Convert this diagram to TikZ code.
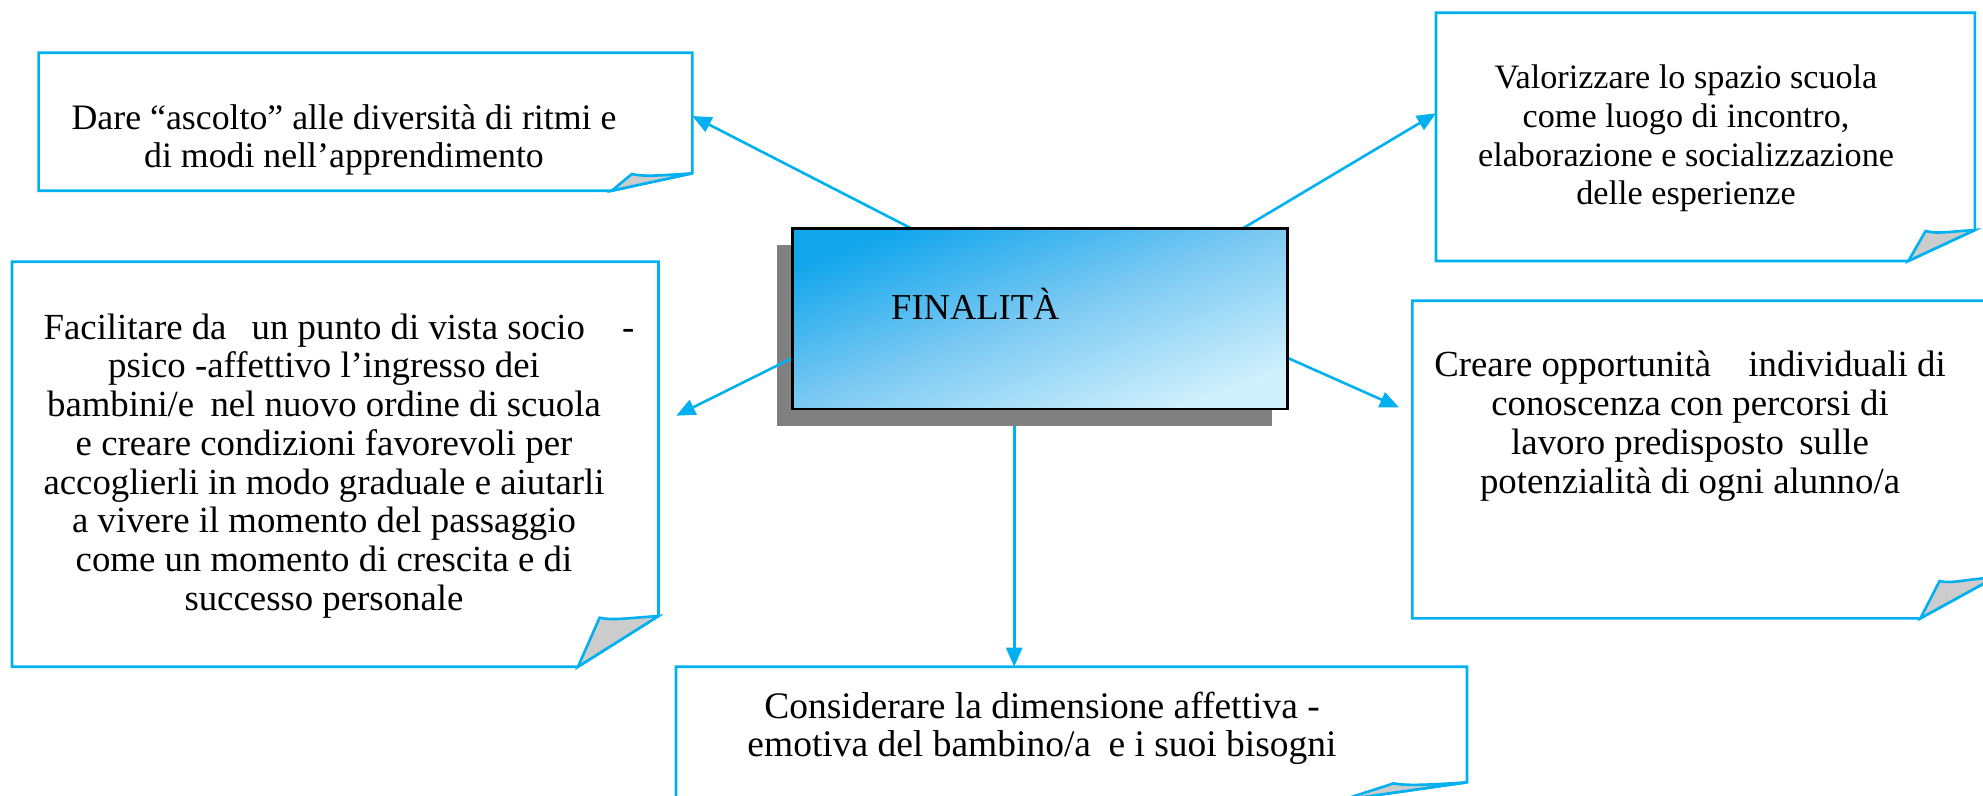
\documentclass[tikz,border=0pt]{standalone}
\usepackage{fontspec}
\setmainfont{Liberation Serif}
\usetikzlibrary{arrows.meta,calc}
\definecolor{lineblue}{RGB}{0,176,240}
\definecolor{foldgray}{RGB}{204,204,204}
\definecolor{shadowgray}{RGB}{128,128,128}
\definecolor{gradA}{RGB}{18,166,236}
\definecolor{gradM}{RGB}{125,202,242}
\definecolor{gradB}{RGB}{208,240,252}
\pgfdeclareverticalshading{finshade}{100bp}{color(0bp)=(gradB); color(25bp)=(gradB); color(50bp)=(gradM); color(75bp)=(gradA); color(100bp)=(gradA)}
% #1 node, #2 bottom-end dx, #3 right-end dy, #4 tip dx, #5 tip dy
\newcommand{\drawfoldbox}[5]{%
  \draw[boxline] (#1.north west) -- (#1.north east) -- ([yshift=#3pt]#1.south east)
     -- ([xshift=-#2pt]#1.south east) -- (#1.south west) -- cycle;
  \filldraw[boxline, fill=foldgray] ([xshift=-#2pt]#1.south east)
     -- ([xshift=-#4pt,yshift=#5pt]#1.south east)
     .. controls ([xshift=-#4pt+12pt,yshift=#5pt-3pt]#1.south east)
     and ([xshift=-30pt,yshift=#3pt-2pt]#1.south east) .. ([yshift=#3pt]#1.south east)
     -- cycle;
}
\begin{document}
\begin{tikzpicture}[x=1pt, y=-1pt,
  boxline/.style={draw=lineblue, line width=2.6pt, line join=miter},
  conn/.style={draw=lineblue, line width=2.6pt, -{Triangle[length=19pt,width=16pt]}},
  frame/.style={draw=none, inner sep=0pt, outer sep=0pt},
  txt/.style={inner sep=0pt, align=center, font=\fontsize{#1}{38.7}\selectfont},
  ]
\useasboundingbox (0,0) rectangle (1983,795);
\clip (0,0) rectangle (1983,795);

% invisible frames
\node[frame, minimum width=653.7pt, minimum height=138pt]   (A) at (365.45,121.7) {};
\node[frame, minimum width=538.8pt, minimum height=248.3pt] (B) at (1705.4,136.85) {};
\node[frame, minimum width=646.5pt, minimum height=405pt]   (C) at (335.25,464.2) {};
\node[frame, minimum width=582.7pt, minimum height=317.6pt] (D) at (1703.65,459.5) {};
\node[frame, minimum width=791pt,   minimum height=133.3pt] (E) at (1071.5,733.35) {};
\node[frame, minimum width=494.8pt, minimum height=180.7pt] (fin) at (1040.1,318.65) {};

% folded boxes
\drawfoldbox{A}{80.6}{17.4}{60.4}{16.7}
\drawfoldbox{B}{66.5}{31}{49.2}{30}
\drawfoldbox{C}{80.5}{50.7}{58.9}{49}
\drawfoldbox{D}{74.6}{41}{55.4}{37.3}
\drawfoldbox{E}{125}{17.7}{73.2}{16.7}

% shadow of central box
\fill[shadowgray] ([xshift=-16pt,yshift=-16.7pt]fin.south west) rectangle ([xshift=-16pt,yshift=-16.7pt]fin.north east);

% connectors
\draw[conn] (fin.145.9) -- (A.1.34);
\draw[conn] (fin.24.25) -- (B.175.8);
\draw[conn, shorten >=19.8pt] (fin.189.6) -- (C.7.8);
\draw[conn, shorten >=14.6pt] (fin.351.3) -- (D.171.1);
\draw[conn] ([yshift=-16.7pt]fin.254.2) -- (fin.254.2 |- E.north);

% central box
\shade[shading=finshade, shading angle=20] (fin.south west) rectangle (fin.north east);
\draw[black, line width=2.6pt] (fin.south west) rectangle (fin.north east);
\node[inner sep=0pt, anchor=base west, font=\fontsize{36.5}{40}\selectfont] (fintext) at (891,319.3) {FINALITÀ};

% texts
\node[txt=35.8] (Atext) at (344,140.8) {\strut Dare “ascolto” alle diversità di ritmi e\\di modi nell’apprendimento\strut};
\node[txt=34.2] (Btext) at (1686,139) {\strut Valorizzare lo spazio scuola\\come luogo di incontro,\\elaborazione e socializzazione\\delle esperienze\strut};
\node[txt=36.8] (Ctext) at (324,467) {\strut\hspace*{30pt}Facilitare da\hspace{16pt} un punto di vista socio\hspace{28pt} -\\psico -affettivo l’ingresso dei\\bambini/e\hspace{7pt} nel nuovo ordine di scuola\\e creare condizioni favorevoli per\\accoglierli in modo graduale e aiutarli\\a vivere il momento del passaggio\\come un momento di crescita e di\\successo personale\strut};
\node[txt=36.8] (Dtext) at (1690,427.3) {\strut Creare opportunità\hspace{28pt} individuali di\\conoscenza con percorsi di\\lavoro predisposto\hspace{6pt} sulle\\potenzialità di ogni alunno/a\strut};
\node[txt=37.5] (Etext) at (1042,729.8) {\strut Considerare la dimensione affettiva -\\emotiva del bambino/a\hspace{8pt} e i suoi bisogni\strut};
\end{tikzpicture}
\end{document}
